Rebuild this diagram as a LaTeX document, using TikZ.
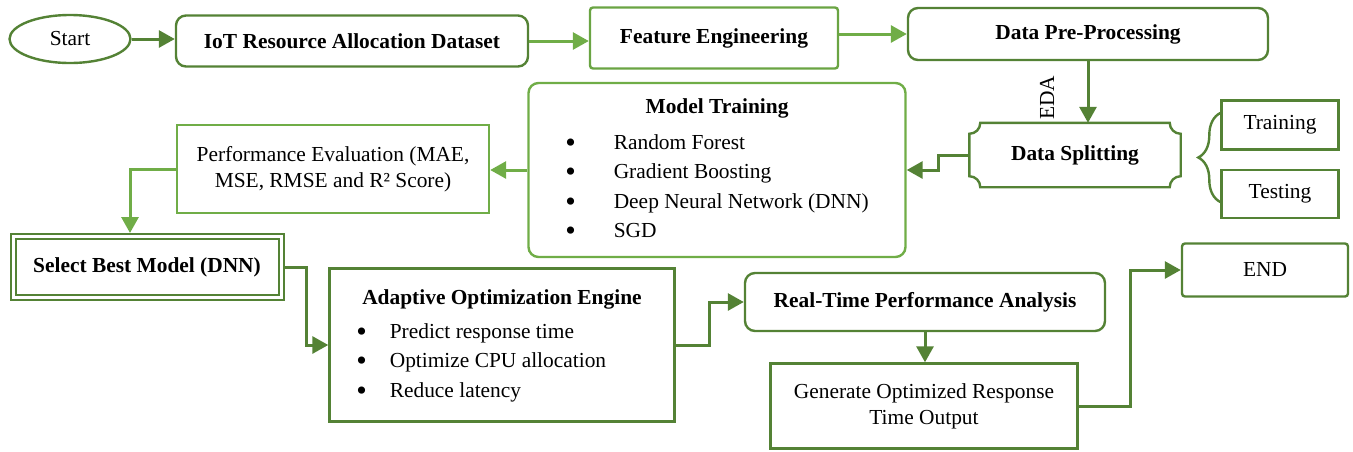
\documentclass[tikz,border=0pt]{standalone}
\usepackage{fontspec}
\setmainfont{Liberation Serif}
\usetikzlibrary{positioning,calc,arrows.meta,shapes.geometric,decorations.pathreplacing}
\definecolor{dkgreen}{HTML}{548235}
\definecolor{ltgreen}{HTML}{70AD47}
\newcommand{\bul}{\raisebox{-3pt}{\fontsize{30}{26}\selectfont\textbullet}}
\tikzset{font=\fontsize{21.4}{26}\selectfont,
	box/.style={draw=dkgreen, line width=2.4pt, align=center, inner sep=2pt},
	rbox/.style={box, rounded corners=10pt},
	lbox/.style={box, draw=ltgreen},
	flow/.style={draw=dkgreen, line width=3pt, -{Triangle[length=16pt,width=17pt]}},
	lflow/.style={flow, draw=ltgreen}}

\begin{document}
\begin{tikzpicture}[x=1pt, y=1pt]
	\useasboundingbox (0,0) rectangle (1353,-451);

	% top row
	\node[box, ellipse, minimum width=121pt, minimum height=48pt] (start) at (70,-39) {Start};
	\node[rbox, minimum width=352pt, minimum height=51pt] (iot) at (352,-41) {\textbf{IoT Resource Allocation Dataset}};
	\node[box, rounded corners=3pt, draw=ltgreen!80!dkgreen, minimum width=248pt, minimum height=61pt] (fe) at (714,-38) {\textbf{Feature Engineering}};
	\node[rbox, minimum width=360pt, minimum height=52pt] (dpp) at (1088,-34) {\textbf{Data Pre-Processing}};
	\node[rotate=90] (eda) at (1047,-98) {EDA};

	% splitting
	\node[minimum width=209pt, minimum height=62pt, outer sep=1.2pt] (ds) at (1075,-155) {\textbf{Data Splitting}};
	\draw[dkgreen, line width=2.4pt] ($(ds.north west)+(0,-11)$) arc[start angle=270, end angle=360, radius=11pt]
		-- ($(ds.north east)+(-11,0)$) arc[start angle=180, end angle=270, radius=11pt]
		-- ($(ds.south east)+(0,11)$) arc[start angle=90, end angle=180, radius=11pt]
		-- ($(ds.south west)+(11,0)$) arc[start angle=0, end angle=90, radius=11pt] -- cycle;
	\node[box, minimum width=117pt, minimum height=49pt] (train) at (1280,-125) {Training};
	\node[box, minimum width=117pt, minimum height=48pt] (test) at (1280,-194) {Testing};
	\coordinate (bt) at ($(train.west)+(0,12)$);
	\coordinate (bb) at ($(test.west)+(0,-8)$);
	\draw[dkgreen, line width=2.4pt, decorate, decoration={brace, amplitude=22pt}] (bb) -- (bt);

	% models
	\node[rbox, draw=ltgreen, minimum width=377pt, minimum height=174pt] (mt) at (717,-170) {%
		\renewcommand{\arraystretch}{1.135}%
		\begin{tabular}{@{}c@{\hspace{38pt}}l@{}}
			\multicolumn{2}{c}{\textbf{Model Training}}\\[6pt]
			\bul & Random Forest\\
			\bul & Gradient Boosting\\
			\bul & Deep Neural Network (DNN)\\
			\bul & SGD
		\end{tabular}};
	\node[lbox, minimum width=312pt, minimum height=88pt] (pe) at (333,-169) {Performance Evaluation (MAE,\\MSE, RMSE and R² Score)};
	\node[draw=dkgreen, double=white, double distance=3pt, line width=2pt, outer sep=3.5pt,
		minimum width=268pt, minimum height=61pt] (sel) at (147,-267) {\textbf{Select Best Model (DNN)}};

	% bottom row
	\node[box, minimum width=345pt, minimum height=153pt] (aoe) at (502,-345) {%
		\renewcommand{\arraystretch}{1.135}%
		\begin{tabular}{@{}c@{\hspace{23pt}}l@{}}
			\multicolumn{2}{c}{\textbf{Adaptive Optimization Engine}}\\[4pt]
			\bul & Predict response time\\
			\bul & Optimize CPU allocation\\
			\bul & Reduce latency
		\end{tabular}};
	\node[rbox, minimum width=360pt, minimum height=58pt] (rt) at (925,-302) {\textbf{Real-Time Performance Analysis}};
	\node[box, minimum width=307pt, minimum height=85pt] (gen) at (924,-406) {Generate Optimized Response\\Time Output};
	\node[box, rounded corners=3pt, minimum width=166pt, minimum height=53pt] (end) at (1265,-270) {END};

	% connectors
	\draw[flow] (start.east) -- (start.east -| iot.west);
	\draw[lflow] (iot.east) -- (iot.east -| fe.west);
	\draw[lflow] (fe.east |- dpp.west) -- (dpp.west);
	\draw[flow] (dpp.south) -- (dpp.south |- ds.north);
	\draw[flow] (ds.west) -- ++(-31,0) |- (mt.east);
	\draw[lflow] (mt.west) -- (mt.west -| pe.east);
	\draw[lflow] (pe.west) -| ([xshift=-17pt]sel.north);
	\draw[flow] (sel.east) -- ++(22,0) |- (aoe.west);
	\draw[flow] (aoe.east) -- ++(34,0) |- (rt.west);
	\draw[flow] (rt.south) -- (rt.south |- gen.north);
	\draw[flow] (gen.east) -- ++(52,0) |- (end.west);
\end{tikzpicture}
\end{document}
